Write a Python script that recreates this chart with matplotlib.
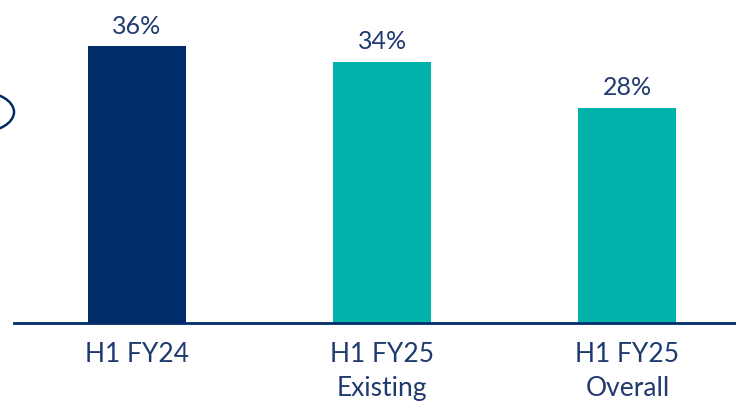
import matplotlib
matplotlib.use("Agg")
import matplotlib.pyplot as plt
from matplotlib.patches import Ellipse

categories = ["H1 FY24", "H1 FY25\nExisting", "H1 FY25\nOverall"]
values = [36, 34, 28]
value_labels = ["36%", "34%", "28%"]
bar_colors = ["#002D6A", "#00B2A9", "#00B2A9"]

text_color = "#1F3A6E"
plt.rcParams["font.family"] = ["Lato", "DejaVu Sans"]

fig = plt.figure(figsize=(7.36, 4.01), dpi=100)
ax = fig.add_axes([14 / 736, 78 / 401, 722 / 736, 323 / 401])

x = range(len(values))
ax.bar(x, values, width=0.4, color=bar_colors)

for xi, v, lab in zip(x, values, value_labels):
    ax.text(xi, v + 1.1, lab, ha="center", va="bottom", fontsize=18, color=text_color)

ax.set_xlim(-0.502, 2.443)
ax.set_ylim(0, 42)
ax.set_xticks(list(x))
ax.set_xticklabels(categories, fontsize=19, color=text_color, linespacing=1.45)
ax.tick_params(axis="x", length=0, pad=14)
ax.set_yticks([])
for side in ["top", "right", "left"]:
    ax.spines[side].set_visible(False)
ax.spines["bottom"].set_color("#002D6A")
ax.spines["bottom"].set_linewidth(2)

# partial ellipse at the left edge
ell = Ellipse((-20 / 736, 1 - 112 / 401), 68 / 736, 40 / 401, transform=fig.transFigure,
              fill=False, edgecolor="#002D6A", linewidth=1.8, clip_on=False)
fig.patches.append(ell)

fig.savefig("out.png", dpi=100)
